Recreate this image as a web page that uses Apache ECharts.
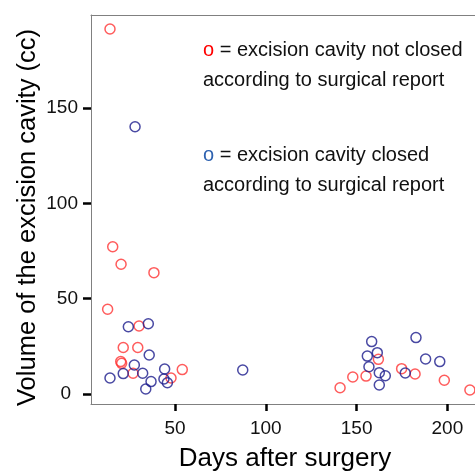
<!DOCTYPE html>
<html>
<head>
<meta charset="utf-8">
<script src="https://cdn.jsdelivr.net/npm/echarts@6/dist/echarts.min.js"></script>
<style>
html,body{margin:0;padding:0;background:#fff;}
#c{width:475px;height:474px;}
</style>
</head>
<body>
<div id="c"></div>
<script>
// Data
const redDays = [14.2, 15.7, 20.3, 38.4, 12.9, 30.2, 21.5, 29.5, 20.1, 20.6, 26.9, 54.0, 47.8, 140.9, 147.9, 155.2, 162.0, 174.8, 182.2, 198.3, 212.4];
const redVols = [191.6, 77.3, 68.1, 63.7, 44.5, 35.7, 24.4, 24.4, 17.0, 16.1, 10.9, 12.8, 8.4, 3.3, 8.9, 9.4, 18.2, 13.3, 10.5, 7.2, 2.1];
const blueDays = [28.0, 24.3, 35.3, 35.8, 27.6, 44.3, 87.3, 14.2, 21.5, 32.2, 36.8, 43.9, 45.8, 33.9, 158.3, 161.4, 155.9, 156.8, 162.5, 165.8, 162.5, 176.8, 182.7, 188.0, 195.8];
const blueVols = [140.3, 35.3, 36.9, 20.5, 15.2, 13.1, 12.6, 8.4, 10.7, 10.9, 6.5, 7.9, 5.9, 2.6, 27.5, 21.7, 19.9, 14.3, 11.2, 9.6, 4.7, 11.0, 29.6, 18.4, 17.0];
const xTicks = [50, 100, 150, 200];
const yTicks = [0, 50, 100, 150];
const xTitle = 'Days after surgery';
const yTitle = 'Volume of the excision cavity (cc)';
const legendRedLine1 = ' = excision cavity not closed';
const legendBlueLine1 = ' = excision cavity closed';
const legendLine2 = 'according to surgical report';

const FONT = '"Liberation Sans", Arial, Helvetica, sans-serif';
const zip = (a, b) => a.map((v, i) => [v, b[i]]);
const XMIN = 3.74, XMAX = 215.2, YMIN = -5.25, YMAX = 198.95;
const frame = {show: true, onZero: false, lineStyle: {color: '#808080', width: 1}};

const chart = echarts.init(document.getElementById('c'), null, {renderer: 'canvas'});
chart.setOption({
  animation: false,
  backgroundColor: '#ffffff',
  grid: {left: 91, right: 0, top: 15, bottom: 70, show: false},
  xAxis: [
    {
      type: 'value', min: XMIN, max: XMAX, position: 'bottom',
      axisLine: frame,
      splitLine: {show: false},
      axisTick: {show: true, inside: false, length: 7, customValues: xTicks, lineStyle: {color: '#000', width: 2.5}},
      axisLabel: {customValues: xTicks, margin: 15, fontSize: 19, fontFamily: FONT, color: '#111'}
    },
    {
      type: 'value', min: XMIN, max: XMAX, position: 'top',
      axisLine: frame, splitLine: {show: false}, axisTick: {show: false}, axisLabel: {show: false}
    }
  ],
  yAxis: {
    type: 'value', min: YMIN, max: YMAX,
    axisLine: frame,
    splitLine: {show: false},
    axisTick: {show: true, inside: false, length: 8, customValues: yTicks, lineStyle: {color: '#000', width: 2.5}},
    axisLabel: {
      customValues: yTicks, margin: 13, fontSize: 19, fontFamily: FONT, color: '#111',
      formatter: v => (v === 0 ? '{z|0}' : String(v)),
      rich: {z: {fontSize: 19, fontFamily: FONT, color: '#111', padding: [0, 7, 0, 0]}}
    }
  },
  series: [
    {
      type: 'scatter', symbol: 'circle', symbolSize: 10, xAxisIndex: 0,
      data: zip(redDays, redVols),
      itemStyle: {color: 'rgba(0,0,0,0)', borderColor: '#ff3333', borderWidth: 1.5}
    },
    {
      type: 'scatter', symbol: 'circle', symbolSize: 10, xAxisIndex: 0,
      data: zip(blueDays, blueVols),
      itemStyle: {color: 'rgba(0,0,0,0)', borderColor: '#1c1c8c', borderWidth: 1.5}
    }
  ],
  graphic: [
    {type: 'text', x: 285, y: 459, style: {text: xTitle, font: '26px ' + FONT, fill: '#000', textAlign: 'center', textVerticalAlign: 'middle'}},
    {type: 'text', x: 27.5, y: 217.5, rotation: Math.PI / 2, style: {text: yTitle, font: '25.5px ' + FONT, fill: '#000', textAlign: 'center', textVerticalAlign: 'middle'}},
    {type: 'text', x: 203, y: 50, style: {
      text: '{r|o}{k|' + legendRedLine1 + '}', textAlign: 'left', textVerticalAlign: 'middle',
      rich: {r: {fill: '#ff0000', fontSize: 20, fontFamily: FONT}, k: {fill: '#111', fontSize: 20, fontFamily: FONT}}
    }},
    {type: 'text', x: 203, y: 80, style: {text: legendLine2, font: '20px ' + FONT, fill: '#111', textAlign: 'left', textVerticalAlign: 'middle'}},
    {type: 'text', x: 203, y: 155, style: {
      text: '{b|o}{k|' + legendBlueLine1 + '}', textAlign: 'left', textVerticalAlign: 'middle',
      rich: {b: {fill: '#2e62b0', fontSize: 20, fontFamily: FONT}, k: {fill: '#111', fontSize: 20, fontFamily: FONT}}
    }},
    {type: 'text', x: 203, y: 185, style: {text: legendLine2, font: '20px ' + FONT, fill: '#111', textAlign: 'left', textVerticalAlign: 'middle'}}
  ]
});
</script>
</body>
</html>
